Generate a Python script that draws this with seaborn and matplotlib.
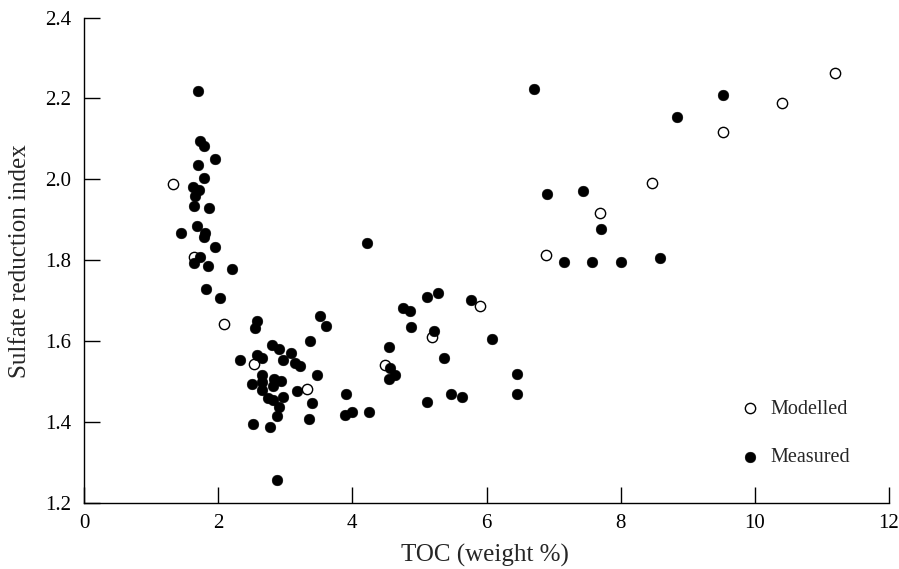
import matplotlib
matplotlib.use("Agg")
import matplotlib.pyplot as plt
import seaborn as sns
import pandas as pd

# Modelled values (open circles)
modelled_toc = [1.33, 1.64, 2.08, 2.54, 3.33, 4.49, 5.19, 5.91, 6.88, 7.69, 8.46, 9.52, 10.40, 11.20]
modelled_sri = [1.988, 1.808, 1.641, 1.542, 1.480, 1.540, 1.610, 1.687, 1.812, 1.916, 1.990, 2.117, 2.189, 2.264]

# Measured values (filled circles)
measured_toc = [1.70, 1.73, 1.79, 1.96, 1.70, 1.79, 1.63, 1.72, 1.66, 1.64, 1.86, 1.68, 1.44, 1.81,
                1.79, 1.95, 1.73, 1.64, 1.85, 2.20, 1.82, 2.03, 2.58, 2.55, 3.52, 3.60, 3.37, 2.80,
                2.90, 3.08, 2.58, 2.66, 2.32, 2.96, 3.14, 3.22, 2.66, 3.47, 2.83, 2.94, 2.50, 2.66,
                2.81, 2.66, 3.17, 2.74, 2.81, 2.96, 2.90, 3.40, 3.91, 2.87, 3.36, 3.89, 3.99, 4.25,
                2.52, 2.77, 2.88, 4.22, 5.11, 5.28, 5.77, 4.76, 4.86, 4.87, 5.21, 6.08, 4.54, 5.36,
                4.56, 4.64, 4.54, 6.45, 6.45, 5.47, 5.63, 5.11, 6.71, 9.52, 8.84, 6.90, 7.44, 7.71,
                7.16, 7.57, 8.01, 8.58]
measured_sri = [2.219, 2.095, 2.083, 2.050, 2.035, 2.004, 1.982, 1.974, 1.959, 1.934, 1.930, 1.885, 1.867, 1.867,
                1.856, 1.833, 1.807, 1.792, 1.786, 1.778, 1.729, 1.705, 1.649, 1.633, 1.662, 1.637, 1.600, 1.590,
                1.579, 1.569, 1.565, 1.557, 1.553, 1.553, 1.545, 1.538, 1.516, 1.516, 1.505, 1.501, 1.493, 1.499,
                1.488, 1.478, 1.476, 1.458, 1.454, 1.460, 1.437, 1.446, 1.468, 1.414, 1.406, 1.417, 1.423, 1.425,
                1.394, 1.388, 1.256, 1.842, 1.708, 1.718, 1.701, 1.681, 1.675, 1.634, 1.625, 1.604, 1.586, 1.558,
                1.532, 1.516, 1.505, 1.517, 1.468, 1.468, 1.462, 1.450, 2.224, 2.209, 2.153, 1.964, 1.972, 1.876,
                1.795, 1.795, 1.795, 1.805]

x_ticks = [0, 2, 4, 6, 8, 10, 12]
y_ticks = [1.2, 1.4, 1.6, 1.8, 2.0, 2.2, 2.4]
x_label = "TOC (weight %)"
y_label = "Sulfate reduction index"

sns.set_style("white")
plt.rcParams["font.family"] = ["Liberation Serif", "DejaVu Serif"]
plt.rcParams["font.size"] = 15

df_mod = pd.DataFrame({"toc": modelled_toc, "sri": modelled_sri})
df_mea = pd.DataFrame({"toc": measured_toc, "sri": measured_sri})

fig = plt.figure(figsize=(8.99, 5.69), dpi=100)
ax = fig.add_axes([84 / 899, 1 - 502.5 / 569, (889 - 84) / 899, (502.5 - 17.7) / 569])

sns.scatterplot(data=df_mod, x="toc", y="sri", ax=ax, marker="o", s=55,
                facecolor="white", edgecolor="black", linewidth=1.0, label="Modelled")
sns.scatterplot(data=df_mea, x="toc", y="sri", ax=ax, marker="o", s=60,
                color="black", edgecolor="black", linewidth=0.3, label="Measured")

ax.set_xlim(0, 12)
ax.set_ylim(1.2, 2.4)
ax.set_xticks(x_ticks)
ax.set_xticklabels([str(t) for t in x_ticks])
ax.set_yticks(y_ticks)
ax.set_yticklabels([f"{t:.1f}" for t in y_ticks])
ax.tick_params(axis="both", direction="in", length=11.5, width=1.0, color="black",
               labelsize=15, labelcolor="black", bottom=True, left=True,
               top=False, right=False)
ax.tick_params(axis="x", pad=8)
ax.tick_params(axis="y", pad=9)

for side in ["top", "right"]:
    ax.spines[side].set_visible(False)
for side in ["left", "bottom"]:
    ax.spines[side].set_color("black")
    ax.spines[side].set_linewidth(1.0)

ax.set_xlabel(x_label, fontsize=18)
ax.set_ylabel(y_label, fontsize=18)
ax.xaxis.set_label_coords(0.498, -0.086)
ax.yaxis.set_label_coords(-0.066, 0.498)

ax.legend(loc="center left", bbox_to_anchor=(0.805, 0.143), frameon=False,
          fontsize=14.5, labelspacing=1.45, handletextpad=0.5, borderaxespad=0,
          handlelength=1.0)

fig.savefig("out.png", dpi=100)
